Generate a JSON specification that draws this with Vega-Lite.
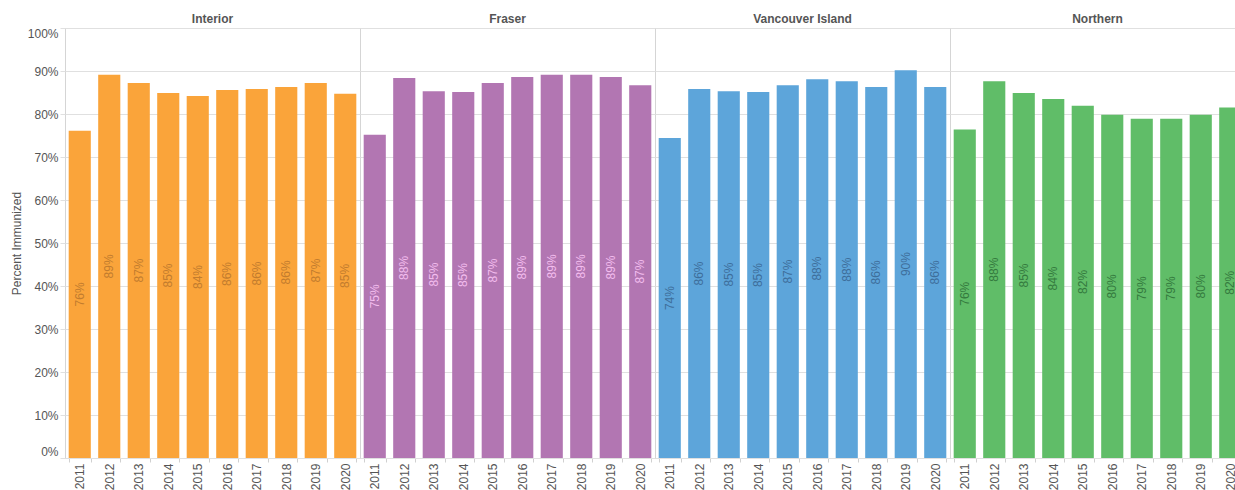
{
  "$schema": "https://vega.github.io/schema/vega-lite/v6.json",
  "padding": {"top": 13, "left": 10, "right": 5, "bottom": 2},
  "bounds": "flush",
  "data": {
    "values": [
      {"region": "Interior", "year": "2011", "value": 0.761},
      {"region": "Interior", "year": "2012", "value": 0.891},
      {"region": "Interior", "year": "2013", "value": 0.872},
      {"region": "Interior", "year": "2014", "value": 0.849},
      {"region": "Interior", "year": "2015", "value": 0.842},
      {"region": "Interior", "year": "2016", "value": 0.856},
      {"region": "Interior", "year": "2017", "value": 0.858},
      {"region": "Interior", "year": "2018", "value": 0.863},
      {"region": "Interior", "year": "2019", "value": 0.872},
      {"region": "Interior", "year": "2020", "value": 0.847},
      {"region": "Fraser", "year": "2011", "value": 0.752},
      {"region": "Fraser", "year": "2012", "value": 0.884},
      {"region": "Fraser", "year": "2013", "value": 0.853},
      {"region": "Fraser", "year": "2014", "value": 0.851},
      {"region": "Fraser", "year": "2015", "value": 0.872},
      {"region": "Fraser", "year": "2016", "value": 0.886},
      {"region": "Fraser", "year": "2017", "value": 0.891},
      {"region": "Fraser", "year": "2018", "value": 0.891},
      {"region": "Fraser", "year": "2019", "value": 0.886},
      {"region": "Fraser", "year": "2020", "value": 0.867},
      {"region": "Vancouver Island", "year": "2011", "value": 0.744},
      {"region": "Vancouver Island", "year": "2012", "value": 0.858},
      {"region": "Vancouver Island", "year": "2013", "value": 0.853},
      {"region": "Vancouver Island", "year": "2014", "value": 0.851},
      {"region": "Vancouver Island", "year": "2015", "value": 0.867},
      {"region": "Vancouver Island", "year": "2016", "value": 0.881},
      {"region": "Vancouver Island", "year": "2017", "value": 0.876},
      {"region": "Vancouver Island", "year": "2018", "value": 0.863},
      {"region": "Vancouver Island", "year": "2019", "value": 0.902},
      {"region": "Vancouver Island", "year": "2020", "value": 0.863},
      {"region": "Northern", "year": "2011", "value": 0.764},
      {"region": "Northern", "year": "2012", "value": 0.876},
      {"region": "Northern", "year": "2013", "value": 0.849},
      {"region": "Northern", "year": "2014", "value": 0.835},
      {"region": "Northern", "year": "2015", "value": 0.819},
      {"region": "Northern", "year": "2016", "value": 0.798},
      {"region": "Northern", "year": "2017", "value": 0.789},
      {"region": "Northern", "year": "2018", "value": 0.789},
      {"region": "Northern", "year": "2019", "value": 0.798},
      {"region": "Northern", "year": "2020", "value": 0.815}
    ]
  },
  "facet": {
    "column": {
      "field": "region",
      "type": "nominal",
      "sort": ["Interior", "Fraser", "Vancouver Island", "Northern"],
      "title": null,
      "header": {
        "labelFontWeight": "bold",
        "labelFontSize": 12,
        "labelColor": "#555555",
        "labelPadding": 2,
        "labelFont": "Liberation Sans"
      }
    }
  },
  "spacing": 0,
  "spec": {
    "width": 295,
    "height": 430,
    "layer": [
      {
        "mark": {"type": "bar"},
        "encoding": {
          "x": {
            "field": "year",
            "type": "ordinal",
            "scale": {"paddingInner": 0.25, "paddingOuter": 0.125},
            "axis": {
              "title": null,
              "labelAngle": -90,
              "tickBand": "extent",
              "domain": false,
              "tickColor": "#d0d0d0",
              "tickSize": 4,
              "labelColor": "#555555",
              "labelFontSize": 12,
              "labelPadding": 1
            }
          },
          "y": {
            "field": "value",
            "type": "quantitative",
            "scale": {"domain": [0, 1], "nice": false},
            "axis": {
              "format": ".0%",
              "tickCount": 10,
              "labelFlush": true,
              "domain": false,
              "gridColor": "#e0e0e0",
              "tickColor": "#e0e0e0",
              "tickSize": 5,
              "labelColor": "#555555",
              "labelFontSize": 12,
              "labelPadding": 2,
              "title": "Percent Immunized",
              "titleFontWeight": "normal",
              "titleFontSize": 12,
              "titleColor": "#555555"
            }
          },
          "color": {
            "field": "region",
            "type": "nominal",
            "scale": {
              "domain": ["Interior", "Fraser", "Vancouver Island", "Northern"],
              "range": ["#FAA43A", "#B276B2", "#5DA5DA", "#60BD68"]
            },
            "legend": null
          }
        }
      },
      {
        "mark": {"type": "text", "angle": 270, "fontSize": 12, "align": "center", "baseline": "middle"},
        "encoding": {
          "x": {"field": "year", "type": "ordinal"},
          "y": {"datum": 0, "type": "quantitative"},
          "yOffset": {
            "field": "value",
            "type": "quantitative",
            "scale": {"domain": [0, 1], "range": [0, -215], "nice": false, "zero": true}
          },
          "text": {"field": "value", "type": "quantitative", "format": ".0%"},
          "fill": {
            "field": "region",
            "type": "nominal",
            "scale": {
              "domain": ["Interior", "Fraser", "Vancouver Island", "Northern"],
              "range": ["#c27c2e", "#f3bdee", "#3d6e9a", "#347a3e"]
            },
            "legend": null
          }
        }
      }
    ]
  },
  "config": {
    "font": "Liberation Sans",
    "view": {"stroke": "#d5d5d5"}
  }
}
